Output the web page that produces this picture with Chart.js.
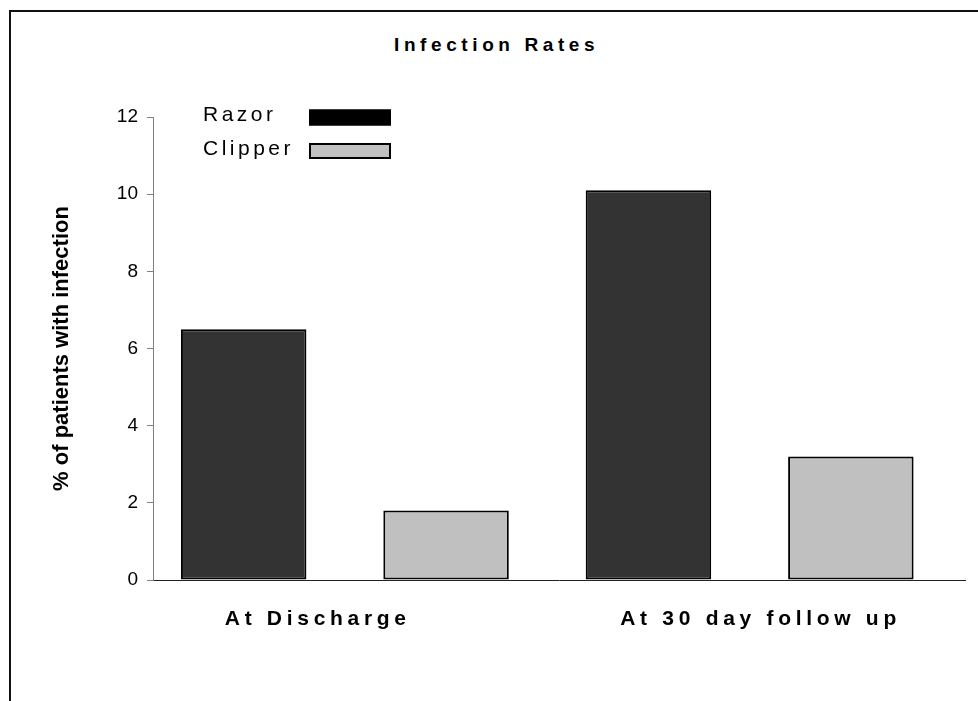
<!doctype html>
<html>
<head>
<meta charset="utf-8">
<title>Infection Rates</title>
<script src="https://cdn.jsdelivr.net/npm/chart.js@4.4.1/dist/chart.umd.min.js"></script>
<style>
  html, body { margin: 0; padding: 0; background: #fff; overflow: hidden; }
  .frame {
    position: absolute; left: 9px; top: 10px; width: 1200px; height: 1000px;
    border-left: 2px solid #111; border-top: 2px solid #111;
  }
  .chart-title {
    position: absolute; left: 394px; top: 35px; white-space: nowrap; color: #000;
    font: bold 19px/19px "Liberation Sans", Arial, sans-serif; letter-spacing: 4.6px;
  }
  #chart { position: absolute; left: 0; top: 0; }
</style>
</head>
<body>
<div class="frame"></div>
<div class="chart-title">Infection Rates</div>
<canvas id="chart" width="978" height="701"></canvas>
<script>
const categories = ["At Discharge", "At 30 day follow up"];
const razorValues = [6.5, 10.1];
const clipperValues = [1.8, 3.2];
const yMin = 0;
const yMax = 12;
const yStep = 2;

const FONT = '"Liberation Sans", Arial, sans-serif';
Chart.defaults.font.family = FONT;

// the source puts its category labels a bit off the group centres
const labelNudge = [-0.067, 0.027];

// excel spreads the bold axis labels out, canvas needs letterSpacing for that
// (x tick labels get z: 1 so they are drawn after the datasets)
const spacedTicks = {
  id: "spacedTicks",
  afterDatasetsDraw(chart, args, opts) {
    chart.ctx.letterSpacing = opts.spacing;
  },
  afterDraw(chart) {
    chart.ctx.letterSpacing = "0px";
  },
};

// legend sits inside the plot, text first and box after it
const sideLegend = {
  id: "sideLegend",
  afterDraw(chart, args, opts) {
    const ctx = chart.ctx;
    ctx.save();
    ctx.letterSpacing = opts.spacing;
    ctx.font = `${opts.fontSize}px ${FONT}`;
    ctx.textBaseline = "middle";
    ctx.textAlign = "left";
    chart.data.datasets.forEach((ds, i) => {
      const y = opts.top + i * opts.rowGap;
      ctx.fillStyle = "#000";
      ctx.fillText(ds.label, opts.textX, y - 2);
      ctx.fillStyle = ds.legendColor || ds.backgroundColor;
      ctx.fillRect(opts.boxX, y - opts.boxH / 2, opts.boxW, opts.boxH);
      ctx.lineWidth = 2;
      ctx.strokeStyle = "#000";
      ctx.strokeRect(opts.boxX + 1, y - opts.boxH / 2 + 1, opts.boxW - 2, opts.boxH - 2);
    });
    ctx.restore();
  },
};

const toPoints = (values) => values.map((v, i) => ({ x: i, y: v }));

new Chart(document.getElementById("chart"), {
  type: "bar",
  data: {
    datasets: [
      {
        label: "Razor",
        data: toPoints(razorValues),
        backgroundColor: "#333333",
        legendColor: "#000000",
        borderColor: "#000000",
        borderWidth: 2,
        borderSkipped: false,
      },
      {
        label: "Clipper",
        data: toPoints(clipperValues),
        backgroundColor: "#c0c0c0",
        borderColor: "#000000",
        borderWidth: 2,
        borderSkipped: false,
      },
    ],
  },
  options: {
    responsive: false,
    maintainAspectRatio: false,
    devicePixelRatio: 1,
    animation: false,
    categoryPercentage: 1.0,
    barPercentage: 0.62,
    layout: { padding: { left: 40, top: 117, right: 13, bottom: 0 } },
    scales: {
      x: {
        type: "linear",
        offset: false,
        min: -0.474,
        max: 1.532,
        afterBuildTicks(axis) {
          axis.ticks = categories.map((_, i) => ({ value: i + labelNudge[i] }));
        },
        afterFit(axis) {
          axis.height = 121;
        },
        grid: { display: false, drawTicks: false, offset: false },
        border: { color: "#222", width: 1 },
        ticks: {
          z: 1,
          callback: (v, i) => categories[i] ?? "",
          color: "#000",
          font: { size: 21, weight: "bold" },
          padding: 27,
          maxRotation: 0,
          autoSkip: false,
        },
      },
      y: {
        min: yMin,
        max: yMax,
        afterFit(axis) {
          axis.width = 113;
        },
        grid: {
          drawOnChartArea: false,
          tickLength: 6,
          color: "#808080",
        },
        border: { color: "#808080", width: 1 },
        ticks: {
          stepSize: yStep,
          color: "#000",
          font: { size: 19 },
          padding: 9,
        },
        title: {
          display: true,
          text: "% of patients with infection",
          color: "#000",
          font: { size: 22, weight: "bold" },
          padding: { top: 9, bottom: 0 },
        },
      },
    },
    plugins: {
      legend: { display: false },
      title: { display: false },
      tooltip: { enabled: false },
      spacedTicks: { spacing: "4.7px" },
      sideLegend: {
        fontSize: 21,
        spacing: "3.5px",
        textX: 203,
        top: 117.5,
        rowGap: 33.5,
        boxX: 309,
        boxW: 82,
        boxH: 16,
      },
    },
  },
  plugins: [spacedTicks, sideLegend],
});
</script>
</body>
</html>
